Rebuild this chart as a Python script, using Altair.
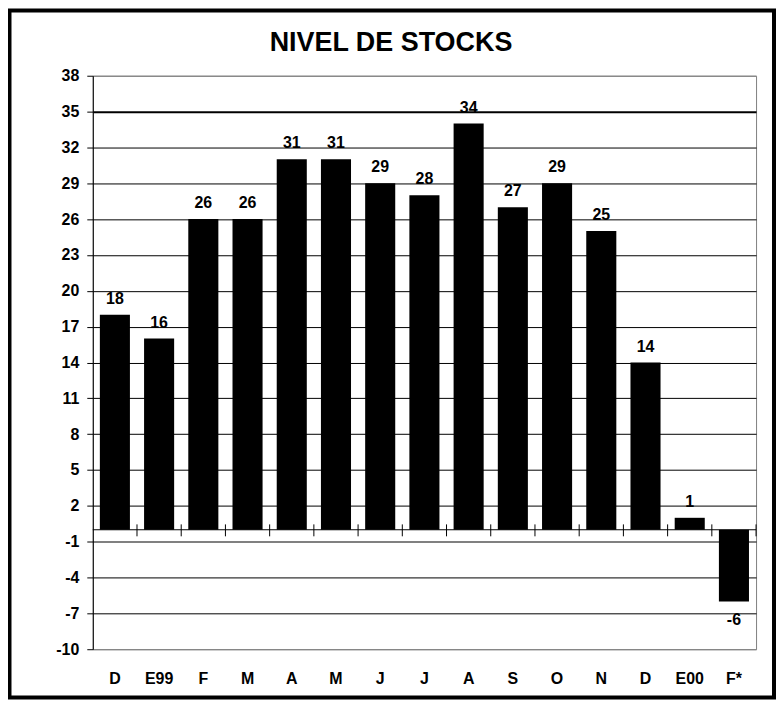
import json
import altair as alt
import pandas as pd

categories = ["D", "E99", "F", "M", "A", "M", "J", "J", "A", "S", "O", "N", "D", "E00", "F*"]
values = [18, 16, 26, 26, 31, 31, 29, 28, 34, 27, 29, 25, 14, 1, -6]
y_ticks = list(range(-10, 39, 3))

W, H = 665, 575
FONT = "Liberation Sans"

df = pd.DataFrame({"i": list(range(len(categories))), "cat": categories, "v": values})
one = pd.DataFrame({"z": [0]})

step = W / len(categories)

x_axis = alt.Axis(
    title=None,
    labelExpr=f"{json.dumps(categories)}[datum.value]",
    labelAngle=0,
    domain=False,
    ticks=False,
    labelPadding=21,
    grid=False,
    labelFont=FONT,
    labelFontSize=16,
    labelFontWeight="bold",
    labelColor="black",
)
x_scale = alt.Scale(paddingInner=0.32, paddingOuter=0.16)

y_axis = alt.Axis(
    title=None,
    values=y_ticks,
    labelExpr="'' + datum.value",
    labelOverlap=False,
    grid=True,
    gridColor={"condition": {"test": "datum.value == 38 || datum.value == -10", "value": "#808080"}, "value": "black"},
    gridWidth={"condition": {"test": "datum.value == 35", "value": 2}, "value": 1},
    tickSize=6,
    labelPadding=8,
    domainColor="black",
    tickColor="black",
    labelFont=FONT,
    labelFontSize=16,
    labelFontWeight="bold",
    labelColor="black",
)
y_scale = alt.Scale(domain=[-10, 38], nice=False, zero=False)


def X(field="i:O"):
    return alt.X(field, scale=x_scale, axis=x_axis)


def Y(field="v:Q"):
    return alt.Y(field, scale=y_scale, axis=y_axis)


base = alt.Chart(df).transform_calculate(lab="'' + datum.v", lo="-0.55", hi="0.45", zero="0")

border = alt.Chart(one).mark_rect(filled=False, stroke="black", strokeWidth=4).encode(
    x=alt.value(-83.5), x2=alt.value(683), y=alt.value(-65.5), y2=alt.value(623.5)
)

bars = base.mark_bar(color="black").encode(x=X(), y=Y(), y2="zero:Q")

zero = alt.Chart(one).mark_rule(color="black", strokeWidth=1).encode(y=Y("z:Q"))

ticks = base.mark_rule(color="black", strokeWidth=1, xOffset=step / 2).encode(
    x=X(), y=Y("lo:Q"), y2="hi:Q"
)

lab_pos = base.transform_filter("datum.v >= 0").mark_text(
    dy=-11, baseline="alphabetic", font=FONT, fontSize=16, fontWeight="bold", color="black"
).encode(x=X(), y=Y(), text="lab:N")

lab_neg = base.transform_filter("datum.v < 0").mark_text(
    dy=24, baseline="alphabetic", font=FONT, fontSize=16, fontWeight="bold", color="black"
).encode(x=X(), y=Y(), text="lab:N")

chart = (
    alt.layer(border, bars, zero, ticks, lab_pos, lab_neg)
    .properties(
        width=W,
        height=H,
        background="white",
        autosize=alt.AutoSizeParams(type="none"),
        padding={"left": 85, "top": 67, "right": 20, "bottom": 51},
        title=alt.TitleParams(
            "NIVEL DE STOCKS",
            font=FONT,
            fontSize=27,
            fontWeight="bold",
            color="black",
            anchor="middle",
            baseline="alphabetic",
            offset=0,
            dx=-33.5,
            dy=69.5,
        ),
    )
    .configure_view(stroke="#808080", strokeWidth=1)
)

chart.save("out.html", embed_options={"renderer": "svg", "actions": False})
